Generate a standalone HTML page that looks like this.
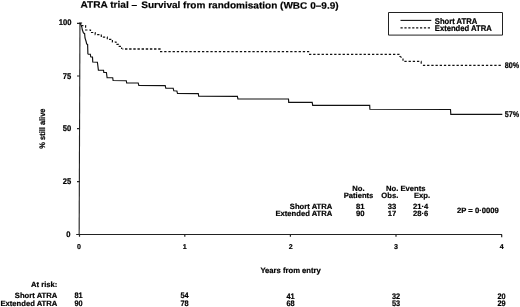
<!DOCTYPE html>
<html>
<head>
<meta charset="utf-8">
<title>ATRA trial</title>
<style>
html,body{margin:0;padding:0;background:#fff;}
body{width:520px;height:307px;overflow:hidden;position:relative;}
svg{position:absolute;left:0;top:0;display:block;filter:grayscale(100%);}
text{font-family:"Liberation Sans",sans-serif;font-weight:bold;fill:#000;stroke:#000;stroke-width:0.2px;text-rendering:geometricPrecision;}
.t{font-size:7.65px;}
</style>
</head>
<body>
<svg width="520" height="307" viewBox="0 0 520 307">
<rect x="0" y="0" width="520" height="307" fill="#fff"/>
<!-- title -->
<text transform="translate(80.5,7.7) rotate(0.25) scale(1,0.93)" style="font-size:10.1px"><tspan x="0">ATRA trial –</tspan><tspan x="60.8" textLength="197.3" lengthAdjust="spacingAndGlyphs">Survival from randomisation (WBC 0–9.9)</tspan></text>

<!-- axes -->
<g stroke="#222" stroke-width="1" fill="none">
<path d="M79 234.5 H502.2" shape-rendering="crispEdges"/>
<path d="M79.95 22.7 L79.15 235" stroke-width="1.1"/>
<path d="M77 23.4 H80 M77 76 H80 M77 128.7 H80 M77 181.6 H80 M76.2 234.5 H80" stroke-width="1.2"/>
<path d="M79.5 234.5 V236.8 M184.8 234.5 V236.8 M290.4 234.5 V236.8 M396 234.5 V236.8 M501.7 234.5 V237.2" stroke-width="1.2"/>
</g>

<!-- y tick labels -->
<g class="t" text-anchor="end">
<text transform="translate(71.5,25.3) scale(1,1.08)">100</text>
<text transform="translate(71.2,78.5) scale(1,1.08)">75</text>
<text transform="translate(71.2,131.2) scale(1,1.08)">50</text>
<text transform="translate(71.2,184.2) scale(1,1.08)">25</text>
<text transform="translate(70.6,236.7) scale(1,1.08)">0</text>
</g>
<!-- x tick labels -->
<g class="t" text-anchor="middle">
<text style="font-size:7.1px" transform="translate(79,249.2) scale(1,0.99)">0</text>
<text style="font-size:7.1px" transform="translate(184.8,249.2) scale(1,0.99)">1</text>
<text style="font-size:7.1px" transform="translate(290.7,249.2) scale(1,0.99)">2</text>
<text style="font-size:7.1px" transform="translate(396,249.2) scale(1,0.99)">3</text>
<text style="font-size:7.1px" transform="translate(501.7,249.2) scale(1,0.99)">4</text>
<text transform="translate(290.6,272.6) scale(1,1.02)">Years from entry</text>
</g>
<text class="t" text-anchor="middle" style="font-size:7.45px" transform="translate(45.4,128.6) rotate(-90) scale(1,1.08)">% still alive</text>

<!-- curves -->
<path id="solid" fill="none" stroke="#111" stroke-width="1.15" stroke-linejoin="miter"
 d="M79.5 23.2 L80.4 23.6 L81.9 27.3 L82.3 29.8 L83.5 33 L84.6 33.5 L85 38 L86.2 41.75 L86.6 43.9 L87.6 44.4 L87.9 53.8 L88.3 54.25 L90.35 54.25 L90.7 56.85 L92.5 57.1 L92.75 62 L97.4 62.2 L98.4 70.1 L103.5 70.2 L103.8 72.4 L106.4 72.5 L107.1 77.75 L112.7 77.75 L113.1 80.55 L126.3 80.7 L126.65 82.85 L138.2 82.95 L138.8 85.5 L165.2 85.6 L165.8 88.1 L173.2 88.3 L173.8 90.8 L176.9 91 L177.5 93.55 L198.3 93.6 L198.7 96.15 L237.4 96.3 L237.9 98.95 L288.5 99 L288.7 102.3 L312.2 102.3 L312.7 105.35 L369.7 105.35 L369.9 109.3 L450.5 109.5 L450.8 114.3 L502.3 114.3"/>
<g fill="none" stroke="#111" stroke-width="1.2">
<path stroke-dasharray="2.3 1.85" d="M79.5 23.2 H81.5 V25.7 H85.6 V30 H90.5 V32.5 H95.2 V34.6 H101.3 V37.2 H107.3 V39.3 H112.4 V42 H116 V44.4 H118.5 V46.3 H121.6 V49.1"/>
<path stroke-dasharray="2.4 1.75" stroke-width="1.5" d="M160.6 49.1 H122.5"/>
<path stroke-dasharray="2.3 1.9" d="M160 51.6 H309.2"/>
<path stroke-dasharray="2.3 1.9" d="M309 54.45 H399.8 V56.2 L403 58.4 V61.4 H421.2 V65.4"/>
<path stroke-dasharray="2.3 1.9" d="M500.8 65.4 H421.2"/>
</g>

<!-- end labels -->
<text class="t" transform="translate(504.8,67.8) scale(1,1.08)" textLength="14.4" lengthAdjust="spacingAndGlyphs">80%</text>
<text class="t" transform="translate(504.8,116.8) scale(1,1.08)" textLength="14.4" lengthAdjust="spacingAndGlyphs">57%</text>

<!-- legend -->
<path d="M388.5 12.5 H502.5 V35.1 H388.5 Z" fill="#fff" stroke="#222" stroke-width="1"/>
<path d="M400.5 20.4 H431.3" stroke="#111" stroke-width="1.1" fill="none"/>
<path d="M400.5 27.9 H431.3" stroke="#111" stroke-width="1.35" stroke-dasharray="2.2 1.7" fill="none"/>
<text class="t" transform="translate(434.8,23.9) scale(1,1.07)" style="font-size:7.65px">Short ATRA</text>
<text class="t" transform="translate(434.8,31.15) scale(1,1.07)" style="font-size:7.65px">Extended ATRA</text>

<!-- stats table -->
<g class="t" text-anchor="middle">
<text transform="translate(358.5,190.9) scale(1,1.0)">No.</text>
<text transform="translate(358.5,198) scale(1,1.0)">Patients</text>
<text transform="translate(405.7,190.9) scale(1,1.0)">No. Events</text>
<text transform="translate(389.8,198) scale(1,1.0)">Obs.</text>
<text transform="translate(422,198) scale(1,1.0)">Exp.</text>
<text transform="translate(360.3,208.6) scale(1,1.0)">81</text>
<text transform="translate(360.3,215.7) scale(1,1.0)">90</text>
<text transform="translate(392,208.6) scale(1,1.0)">33</text>
<text transform="translate(392,215.7) scale(1,1.0)">17</text>
<text transform="translate(420.7,208.6) scale(1,1.0)">21·4</text>
<text transform="translate(420.7,215.7) scale(1,1.0)">28·6</text>
</g>
<g class="t" text-anchor="end">
<text transform="translate(332.3,208.6) scale(1,1.0)">Short ATRA</text>
<text transform="translate(332.3,215.7) scale(1,1.0)">Extended ATRA</text>
</g>
<text class="t" transform="translate(457,213.2) scale(1,1.0)">2P = 0·0009</text>

<!-- at risk -->
<g class="t" text-anchor="end">
<text transform="translate(57.3,287.2)">At risk:</text>
<text transform="translate(57.3,298.2)">Short ATRA</text>
<text transform="translate(57.3,305.6)">Extended ATRA</text>
</g>
<g class="t" text-anchor="middle" style="font-size:7.35px">
<text transform="translate(78.5,298.3) scale(1,1.08)">81</text>
<text transform="translate(78.5,305.7) scale(1,1.08)">90</text>
<text transform="translate(184.6,298.45) scale(1,1.08)">54</text>
<text transform="translate(184.6,305.8) scale(1,1.08)">78</text>
<text transform="translate(290.5,298.6) scale(1,1.08)">41</text>
<text transform="translate(290.5,305.9) scale(1,1.08)">68</text>
<text transform="translate(396,298.75) scale(1,1.08)">32</text>
<text transform="translate(396,306) scale(1,1.08)">53</text>
<text transform="translate(501.5,298.9) scale(1,1.08)">20</text>
<text transform="translate(501.5,306.1) scale(1,1.08)">29</text>
</g>
</svg>
</body>
</html>
